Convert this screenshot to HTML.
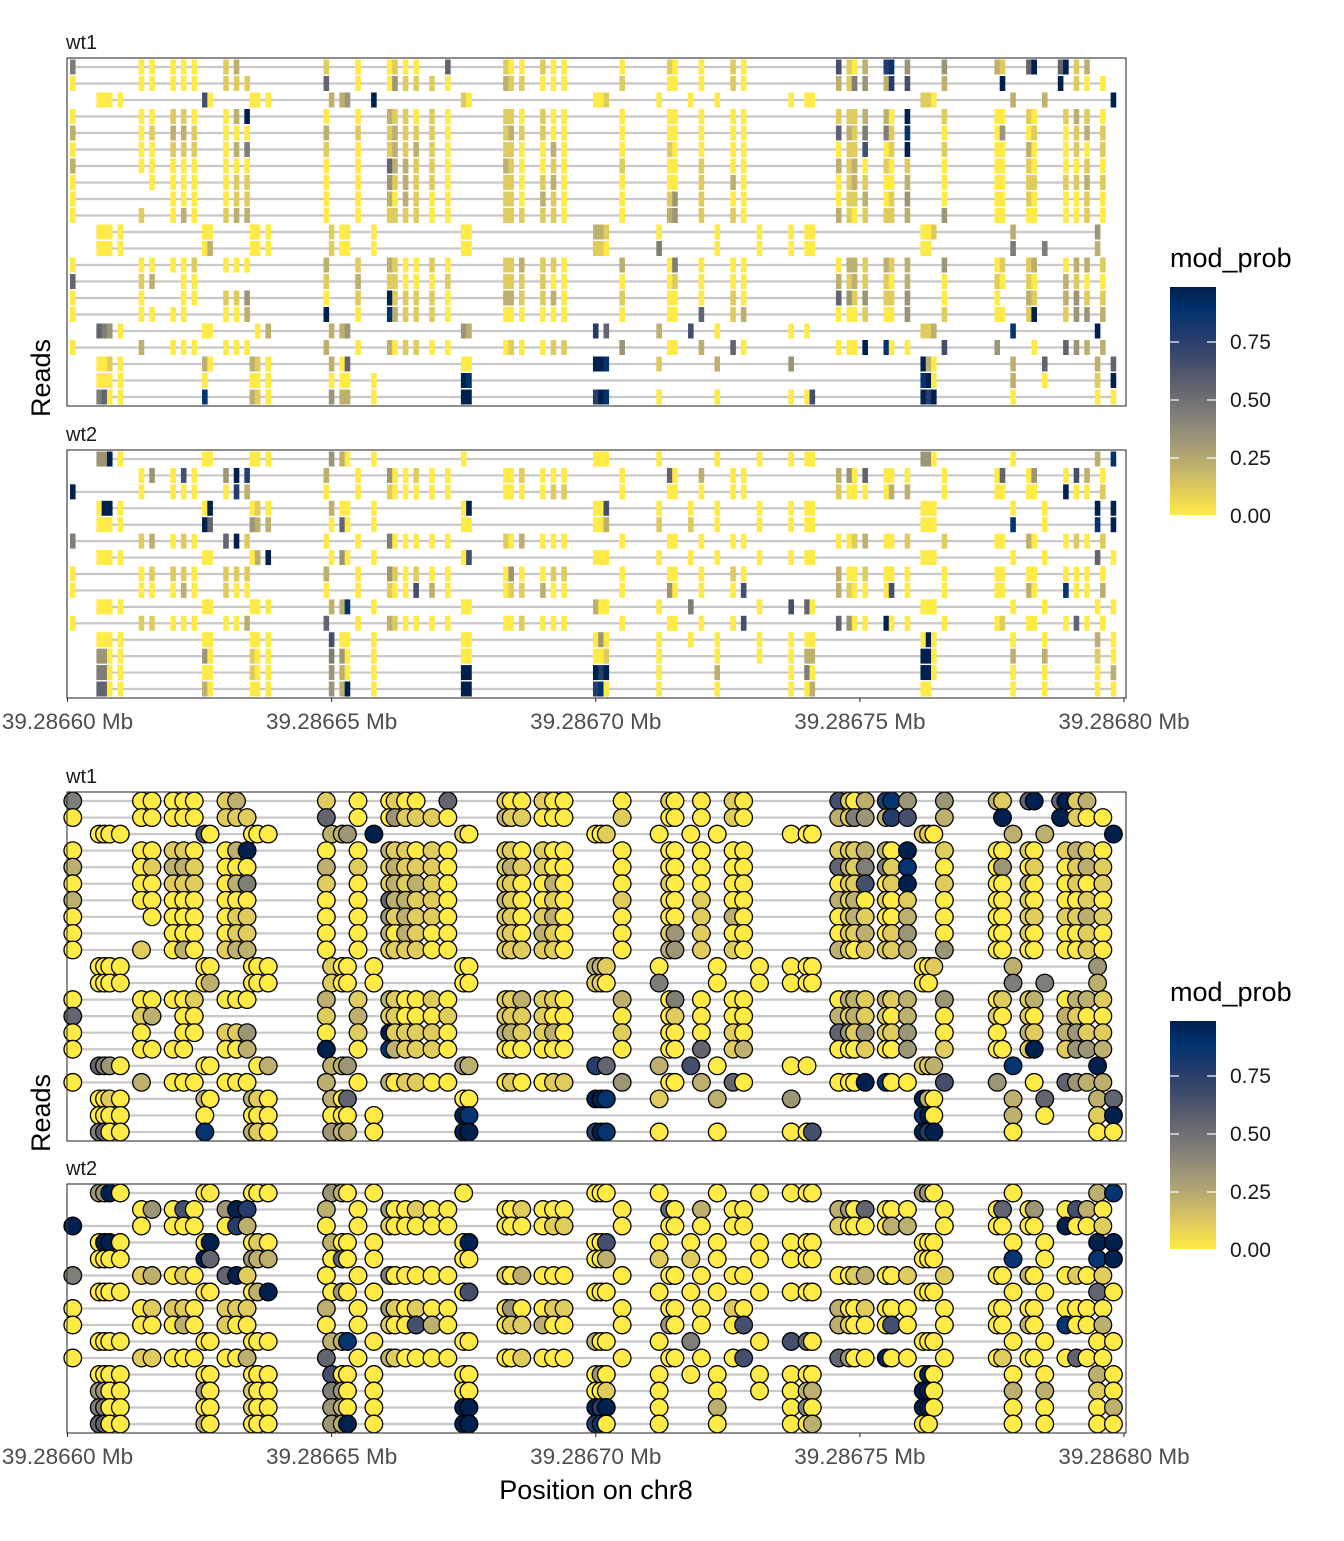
<!DOCTYPE html>
<html><head><meta charset="utf-8"><style>
html,body{margin:0;padding:0;background:#fff}
svg text{font-family:"Liberation Sans",sans-serif}
</style></head><body>
<svg id="chart" width="1344" height="1536" xmlns="http://www.w3.org/2000/svg">
<defs>
<linearGradient id="grad" x1="0" y1="1" x2="0" y2="0">
<stop offset="0" stop-color="#FFEA46"/><stop offset="0.1" stop-color="#E4CF5B"/><stop offset="0.2" stop-color="#C4B56C"/><stop offset="0.3" stop-color="#A69D75"/><stop offset="0.4" stop-color="#8A8779"/><stop offset="0.5" stop-color="#707173"/><stop offset="0.6" stop-color="#575C6D"/><stop offset="0.7" stop-color="#39486B"/><stop offset="0.8" stop-color="#1F3A6C"/><stop offset="0.9" stop-color="#00336F"/><stop offset="1" stop-color="#00204D"/>
</linearGradient>
</defs>
<g id="plots"></g>
</svg>
<script>
// CpG site offsets (bp from 39,286,600) for the two read strands
const sitesS1 = [1,14,16,20,22,24,30,32,34,49,55,61,62,64,66,69,72,83,84,86,90,92,94,105,114,115,120,126,128,146,148,149,151,155,156,159,166,176,177,182,183,188,189,191,193,196];
const sitesS2 = [6,7,8,10,14,26,27,35,36,38,50,52,53,58,75,76,100,101,102,112,118,123,131,137,140,141,162,163,164,179,185,195,198];
// per-read strand and mod_prob in tenths ('.' = not covered)
const wt1Strand = [1,1,2,1,1,1,1,1,1,1,2,2,1,1,1,1,2,1,2,2,2];
const wt1Probs = [
"4"+"00000"+"12."+"100100.5"+"100100"+"010010"+"6102783"+"321595912.",
"0"+"00000"+"111"+"50031110"+"211000"+"100010"+"2143276"+"2.9..9.100",
"0000."+"60"+"000"+"2239"+"10"+"001"+"000.0"+"00"+"110"+"22.9",
"0"+"00110"+"029"+"00211010"+"110100"+"000000"+"1112209"+"10010.1210",
"2"+"01221"+"000"+"21121110"+"121100"+"000000"+"5214418"+"00301.0121",
"0"+"00111"+"024"+"10121210"+"110020"+"010000"+"0116019"+"10020.0101",
"2"+"00000"+"000"+"00522110"+"210010"+"100100"+"2120101"+"00010.0010",
"0"+".0000"+"011"+"00312110"+"110120"+"000120"+"0121002"+"00011.1121",
"0"+"..000"+"011"+"00202100"+"110210"+"013100"+"0112013"+"00010.0010",
"0"+"1.020"+"122"+"00111100"+"111110"+"023110"+"2101112"+"30000.0010",
"0000."+"00"+"000"+"1000"+"00"+"221"+"0.000"+"00"+"001"+"2.3.",
"0000."+"02"+"000"+"1000"+"00"+"110"+"4.000"+"00"+"00."+"442.",
"0"+"00001"+"000"+"21210010"+"112110"+"204000"+"0221212"+"30112.0221",
"5"+"12.00"+"..."+"12110001"+"111100"+"001000"+"2121102"+"01010.2100",
"0"+"0..00"+"113"+"01911110"+"221120"+"100010"+"5313113"+"00.21.2311",
"0"+"0000."+"002"+"90821110"+"000000"+"000512"+"0001003"+"10019.1332",
"5430."+"00"+".02"+"223."+"32"+"7.5"+"260.0"+"0."+"112"+"8.9.",
"0"+"2.000"+"000"+"20201100"+"010011"+"300250"+"0009800"+"63..0.5322",
"0010."+"20"+"210"+"205."+"00"+"998"+"1.2.3"+".."+"920"+"2525",
"0000."+"0."+"000"+"0000"+"98"+"..."+"....."+".."+"890"+"2019",
"4500."+"8."+"210"+"3220"+"99"+"798"+"0.0.0"+"06"+"979"+"0.00"
];
const wt2Strand = [2,1,1,2,2,1,2,1,1,2,1,2,2,2,2];
const wt2Probs = [
"3390."+"00"+"000"+"3200"+"0."+"000"+"0.000"+"00"+"330"+"0.28",
"."+"03060"+"397"+"20300100"+"001000"+"050200"+"2305000"+"00503.0620",
"9"+"0.000"+"072"+"00100000"+"000011"+"000000"+"1000022"+"00000.9001",
"0990."+"09"+"010"+"2000"+"09"+"006"+"00000"+"00"+"000"+"0099",
"0000."+"95"+"322"+"0500"+"00"+"002"+"11000"+"00"+"000"+"8089",
"4"+"12010"+"591"+"00400000"+"102000"+"000000"+"0012001"+"10020.0101",
"0000."+"00"+"029"+"0300"+"06"+"000"+"00000"+"00"+"000"+"0050",
"0"+"01110"+"111"+"20310100"+"030011"+"000010"+"2001000"+"00000.0000",
"0"+"00020"+"100"+"00100620"+"011200"+"030006"+"2100060"+"00020.8002",
"0000."+"00"+"000"+"2280"+"00"+"200"+"04.06"+"50"+"000"+"0000",
"0"+"11000"+"002"+"50210000"+"001000"+"000006"+"5300900"+"00100.0500",
"0000."+"00"+"000"+"6000"+"00"+"030"+"00000"+"00"+"090"+"0020",
"3300."+"30"+"100"+"4300"+"00"+"001"+"0.000"+"22"+"990"+"2210",
"4400."+"00"+"100"+"3200"+"99"+"979"+"0.2.0"+"40"+"990"+"0002",
"5500."+"20"+"000"+"3290"+"99"+"780"+"0.0.0"+"02"+"00."+"0000"
];
const xTickLabels = ["39.28660 Mb","39.28665 Mb","39.28670 Mb","39.28675 Mb","39.28680 Mb"];
const xTickValues = [0,50,100,150,200];
const legendTicks = [0,0.25,0.5,0.75];
const legendLabels = ["0.00","0.25","0.50","0.75"];

const NS="http://www.w3.org/2000/svg";
const X0=67.5, X1=1124;
function xScale(bp){return X0+(X1-X0)*bp/200;}
const stops=["#FFEA46","#E4CF5B","#C4B56C","#A69D75","#8A8779","#707173","#575C6D","#39486B","#1F3A6C","#00336F","#00204D"];
function hex(h){return [1,3,5].map(i=>parseInt(h.substr(i,2),16));}
function color(p){p=Math.max(0,Math.min(1,p));const f=p*10,i=Math.min(9,Math.floor(f)),t=f-i;
 const a=hex(stops[i]),b=hex(stops[i+1]);return "rgb("+a.map((v,k)=>Math.round(v+(b[k]-v)*t)).join(",")+")";}
function el(tag,attrs,parent){const e=document.createElementNS(NS,tag);for(const k in attrs)e.setAttribute(k,attrs[k]);parent.appendChild(e);return e;}
const root=document.getElementById('plots');

function panel(top,h,label,strands,probs,mode){
 const g=el('g',{},root);
 
 
 const t=el('text',{x:66,y:top-9,'font-size':20,fill:'#1a1a1a'},g);t.textContent=label;
 
 
 el('rect',{x:67,y:top,width:1059,height:h,fill:'#fff'},g);
 const n=probs.length, step=(h-18)/(n-1);
 probs.forEach((s,i)=>{
  const y=top+9+i*step, sites=strands[i]===1?sitesS1:sitesS2;
  let first=null,last=null;
  for(let k=0;k<s.length;k++){if(s[k]!=='.'){if(first===null)first=sites[k];last=sites[k];}}
  const ln=el('line',{x1:Math.max(67,xScale(first)-2),x2:Math.min(1126,xScale(last)+2),y1:y,y2:y,stroke:'#c8c8c8','stroke-width':2.2},g);
  
  
 });
 probs.forEach((s,i)=>{
  const y=top+9+i*step, sites=strands[i]===1?sitesS1:sitesS2;
  for(let k=0;k<s.length;k++){
   if(s[k]==='.')continue;
   const p=parseInt(s[k])/9, x=xScale(sites[k]);
   let m;
   if(mode==='tile'){m=el('rect',{x:x-2.8,y:y-7.5,width:5.6,height:15,fill:color(p)},g);}
   else{m=el('circle',{cx:x,cy:y,r:8.8,fill:color(p),stroke:'#000','stroke-width':1.3},g);}
   
   
  }
 });
 const b=el('rect',{x:67,y:top,width:1059,height:h,fill:'none',stroke:'#333','stroke-width':1.1},g);
 
 
}
function xAxis(y){
 xTickValues.forEach((v,i)=>{
  const x=xScale(v);
  const tk=el('line',{x1:x,x2:x,y1:y,y2:y+4,stroke:'#333','stroke-width':1.1},root);
  
  
  const t=el('text',{x:x,y:y+31,'font-size':22.5,fill:'#4d4d4d','text-anchor':'middle'},root);
  t.textContent=xTickLabels[i];
  
  
 });
}
function yTitle(cy){
 const t=el('text',{x:0,y:0,'font-size':27,fill:'#000','text-anchor':'middle',transform:'translate(50,'+cy+') rotate(-90)'},root);
 t.textContent='Reads';
 
 
}
function legend(top){
 const g=el('g',{},root);
 
 
 const tt=el('text',{x:1170,y:top-20,'font-size':27,fill:'#000'},g);tt.textContent='mod_prob';
 
 
 const bt=top+228, pxPer=232;
 const bar=el('rect',{x:1170,y:top,width:46,height:228,fill:'url(#grad)'},g);
 
 
 legendTicks.forEach((v,i)=>{
  const y=bt-v*pxPer+1;
  el('line',{x1:1170,x2:1179,y1:y,y2:y,stroke:'#fff','stroke-width':1.2},g);
  el('line',{x1:1207,x2:1216,y1:y,y2:y,stroke:'#fff','stroke-width':1.2},g);
  const t=el('text',{x:1230,y:y+7,'font-size':21,fill:'#1a1a1a'},g);t.textContent=legendLabels[i];
  
  
 });
}
// top: tiles
panel(58,348,'wt1',wt1Strand,wt1Probs,'tile');
panel(450,248,'wt2',wt2Strand,wt2Probs,'tile');
xAxis(698);
yTitle(378);
legend(287);
// bottom: points
panel(792,349,'wt1',wt1Strand,wt1Probs,'point');
panel(1184,249,'wt2',wt2Strand,wt2Probs,'point');
xAxis(1433);
yTitle(1113);
legend(1021);
const xt=el('text',{x:596,y:1499,'font-size':27,fill:'#000','text-anchor':'middle'},root);
xt.textContent='Position on chr8';


</script>
</body></html>
